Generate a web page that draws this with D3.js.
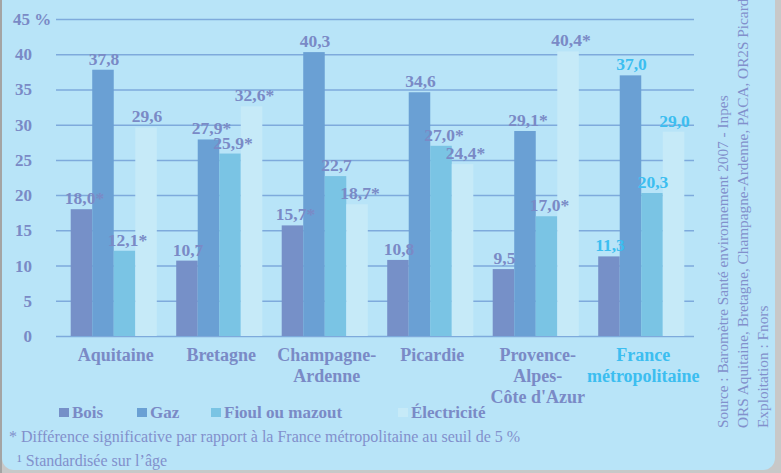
<!DOCTYPE html>
<html lang="fr">
<head>
<meta charset="UTF-8">
<title>Chauffage principal</title>
<script src="https://cdn.jsdelivr.net/npm/d3@7"></script>
<style>
  html, body { margin: 0; padding: 0; background: #c8c8c8; }
  svg { display: block; }
  text { font-family: "Liberation Serif", "DejaVu Serif", serif; }
</style>
</head>
<body>
<div id="chart"></div>
<script>
// data
var categories = ["Aquitaine", "Bretagne", "Champagne-Ardenne", "Picardie", "Provence-Alpes-Côte d'Azur", "France métropolitaine"];
var categoryLines = [["Aquitaine"], ["Bretagne"], ["Champagne-", "Ardenne"], ["Picardie"], ["Provence-", "Alpes-", "Côte d'Azur"], ["France", "métropolitaine"]];
var series = ["Bois", "Gaz", "Fioul ou mazout", "Électricité"];

var bois  = [18.0, 10.7, 15.7, 10.8, 9.5, 11.3];
var gaz   = [37.8, 27.9, 40.3, 34.6, 29.1, 37.0];
var fioul = [12.1, 25.9, 22.7, 27.0, 17.0, 20.3];
var elec  = [29.6, 32.6, 18.7, 24.4, 40.4, 29.0];

// * = significant difference vs France métropolitaine
var boisSig  = [1, 0, 1, 0, 0, 0];
var gazSig   = [0, 1, 0, 0, 1, 0];
var fioulSig = [1, 1, 0, 1, 1, 0];
var elecSig  = [0, 1, 1, 1, 1, 0];

var yTicks = [0, 5, 10, 15, 20, 25, 30, 35, 40, 45];

var WIDTH = 781, HEIGHT = 473;
var COLORS = ["#7690c8", "#6aa0d4", "#7ac4e4", "#c6eaf8"];
var TXT = "#7a8ac6", TXT_FR = "#3cbef0", GRID = "#7eaadc";

var values = [bois, gaz, fioul, elec];
var sigs = [boisSig, gazSig, fioulSig, elecSig];
var rows = [];
categories.forEach(function (c, i) {
    series.forEach(function (s, j) {
        rows.push({ cat: c, idx: i, serie: s, value: values[j][i], sig: sigs[j][i] });
    });
});

var svg = d3.select("#chart").append("svg")
    .attr("width", WIDTH)
    .attr("height", HEIGHT);

// panel
svg.append("rect").attr("x", 0).attr("y", 0).attr("width", 2).attr("height", HEIGHT).attr("fill", "#a4a4a4");
svg.append("rect")
    .attr("x", 2).attr("y", -20)
    .attr("width", 773).attr("height", 490)
    .attr("rx", 12)
    .attr("fill", "#b8e4f8");

var x0 = d3.scaleBand().domain(categories).range([61, 694]).paddingInner(0.184).paddingOuter(0.092);
var x1 = d3.scaleBand().domain(series).range([0, x0.bandwidth()]);
var color = d3.scaleOrdinal().domain(series).range(COLORS);
var y = d3.scaleLinear().domain([0, 45]).range([336, 19]);
var fmt = function (v) { return d3.format(".1f")(v).replace(".", ","); };

// grid + y labels
var yAxis = svg.append("g")
    .attr("transform", "translate(56,0)")
    .call(d3.axisLeft(y).tickValues(yTicks).tickSize(-(694 - 56)).tickPadding(24).tickFormat(d3.format("d")));
yAxis.select(".domain").remove();
yAxis.selectAll(".tick line").attr("stroke", GRID).attr("stroke-width", 1.5);
yAxis.selectAll(".tick text")
    .attr("fill", TXT)
    .style("font-family", '"Liberation Serif", serif')
    .style("font-size", "17px")
    .style("font-weight", "bold");
yAxis.selectAll(".tick").filter(function (d) { return d === 45; })
    .select("text").append("tspan").text(" %");
yAxis.selectAll(".tick").filter(function (d) { return d === 45; })
    .select("text").attr("text-anchor", "start").attr("x", -43);

// bars
var groups = svg.append("g").selectAll("g")
    .data(categories).enter().append("g")
    .attr("transform", function (d) { return "translate(" + x0(d) + ",0)"; });

groups.selectAll("rect")
    .data(function (c) { return rows.filter(function (r) { return r.cat === c; }); })
    .enter().append("rect")
    .attr("x", function (d) { return x1(d.serie); })
    .attr("y", function (d) { return y(d.value); })
    .attr("width", x1.bandwidth())
    .attr("height", function (d) { return y(0) - y(d.value); })
    .attr("fill", function (d) { return color(d.serie); });

groups.selectAll("text")
    .data(function (c) { return rows.filter(function (r) { return r.cat === c; }); })
    .enter().append("text")
    .attr("x", function (d) { return x1(d.serie) + x1.bandwidth() / 2 + (d.sig ? 3 : 1); })
    .attr("y", function (d) { return y(d.value) - 5; })
    .attr("text-anchor", "middle")
    .attr("fill", function (d) { return d.idx === 5 ? TXT_FR : TXT; })
    .style("font-size", "17.5px")
    .style("font-weight", "bold")
    .text(function (d) { return fmt(d.value) + (d.sig ? "*" : ""); });

// category labels
var catLabels = svg.append("g").selectAll("text")
    .data(categories).enter().append("text")
    .attr("text-anchor", "middle")
    .attr("fill", function (d, i) { return i === 5 ? TXT_FR : TXT; })
    .style("font-size", "18px")
    .style("font-weight", "bold");
catLabels.each(function (d, i) {
    var t = d3.select(this);
    var cx = x0(d) + x0.bandwidth() / 2 + 2;
    categoryLines[i].forEach(function (line, k) {
        t.append("tspan").attr("x", cx).attr("y", 361 + k * 21).text(line);
    });
});

// legend
var legendX = [59, 137, 211, 398];
var legend = svg.append("g").selectAll("g")
    .data(series).enter().append("g")
    .attr("transform", function (d, i) { return "translate(" + legendX[i] + ",418)"; });
legend.append("rect")
    .attr("x", 0).attr("y", -10)
    .attr("width", 10).attr("height", 9)
    .attr("fill", function (d) { return color(d); });
legend.append("text")
    .attr("x", 13).attr("y", 0)
    .attr("fill", TXT)
    .style("font-size", "17px")
    .style("font-weight", "bold")
    .text(function (d) { return d; });

// footnotes
svg.append("text")
    .attr("x", 9).attr("y", 442)
    .attr("fill", "#8290cc")
    .style("font-size", "16px")
    .text("* Différence significative par rapport à la France métropolitaine au seuil de 5 %");
svg.append("text")
    .attr("x", 17).attr("y", 466)
    .attr("fill", "#8290cc")
    .style("font-size", "16px")
    .text("¹ Standardisée sur l’âge");

// source (vertical)
var source = ["Source : Baromètre Santé environnement 2007 - Inpes",
    "ORS Aquitaine, Bretagne, Champagne-Ardenne, PACA, OR2S Picardie",
    "Exploitation : Fnors"];
svg.append("g").selectAll("text")
    .data(source).enter().append("text")
    .attr("transform", function (d, i) { return "translate(" + (728 + i * 20) + ",428) rotate(-90)"; })
    .attr("fill", "#8290cc")
    .style("font-size", "15.3px")
    .text(function (d) { return d; });
</script>
</body>
</html>
